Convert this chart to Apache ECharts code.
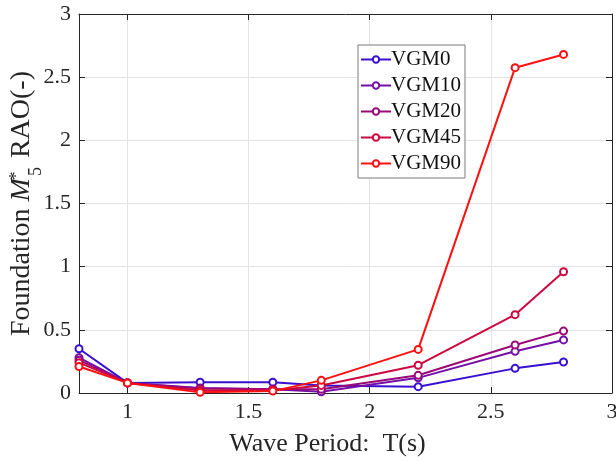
<!DOCTYPE html>
<html><head><meta charset="utf-8">
<script src="https://cdn.jsdelivr.net/npm/echarts@6/dist/echarts.min.js"></script>
<style>html,body{margin:0;padding:0;background:#fff}#c{width:616px;height:461px}</style>
</head><body><div id="c"></div>
<script>
const periods = [0.8, 1.0, 1.3, 1.6, 1.8, 2.2, 2.6, 2.8];
const VGM0  = [0.35, 0.08, 0.085, 0.085, 0.06, 0.05, 0.195, 0.245];
const VGM10 = [0.28, 0.08, 0.04, 0.03, 0.01, 0.12, 0.33, 0.42];
const VGM20 = [0.26, 0.08, 0.035, 0.03, 0.03, 0.14, 0.38, 0.49];
const VGM45 = [0.24, 0.08, 0.02, 0.02, 0.06, 0.22, 0.62, 0.96];
const VGM90 = [0.21, 0.08, 0.005, 0.015, 0.10, 0.345, 2.575, 2.68];
const seriesNames = ['VGM0', 'VGM10', 'VGM20', 'VGM45', 'VGM90'];
const seriesData = [VGM0, VGM10, VGM20, VGM45, VGM90];
const xTicks = [1, 1.5, 2, 2.5, 3];
const colors = ['#3a10d0', '#7410a8', '#9a0878', '#cc0840', '#ff1010'];

const font = 'Liberation Serif, DejaVu Serif, serif';
const axisCol = '#262626';
const gridCol = '#e3e3e3';

function xAxisCfg(pos, show) {
  return {
    type: 'value', position: pos, min: 0.8, max: 3,
    axisLine: { show: true, onZero: false, lineStyle: { color: axisCol, width: 1 } },
    axisTick: { show: true, inside: true, length: 6, customValues: xTicks, lineStyle: { color: axisCol } },
    axisLabel: { show: show, customValues: xTicks, color: axisCol, fontFamily: font, fontSize: 22, margin: 8 },
    splitLine: { show: show, lineStyle: { color: gridCol, width: 1 } },
    name: show ? 'Wave Period:  T(s)' : '', nameLocation: 'middle', nameGap: 38, nameMoveOverlap: false,
    nameTextStyle: { color: axisCol, fontFamily: font, fontSize: 26, padding: [0, 36, 0, 0] }
  };
}
function yAxisCfg(pos, show) {
  return {
    type: 'value', position: pos, min: 0, max: 3, interval: 0.5,
    axisLine: { show: true, onZero: false, lineStyle: { color: axisCol, width: 1 } },
    axisTick: { show: true, inside: true, length: 6, lineStyle: { color: axisCol } },
    axisLabel: { show: show, color: axisCol, fontFamily: font, fontSize: 22, margin: 8 },
    splitLine: { show: show, lineStyle: { color: gridCol, width: 1 } },
    name: show ? '{n|Foundation }{m|M}{sup|*}{s|5}{n| RAO(-)}' : '', nameLocation: 'middle', nameGap: 43, nameMoveOverlap: false,
    nameTextStyle: {
      color: axisCol, fontFamily: font, fontSize: 28,
      rich: {
        n: { fontFamily: font, fontSize: 28, color: axisCol },
        m: { fontFamily: font, fontSize: 28, fontStyle: 'italic', color: axisCol, padding: [0, 2, 0, 0] },
        sup: { fontFamily: font, fontSize: 18, color: axisCol, width: 0, verticalAlign: 'top' },
        s: { fontFamily: font, fontSize: 18, color: axisCol, verticalAlign: 'bottom', padding: [0, 2, -9, 0] }
      }
    }
  };
}

const chart = echarts.init(document.getElementById('c'));
chart.setOption({
  animation: false,
  backgroundColor: '#fff',
  grid: { left: 79, right: 4, top: 14, bottom: 68, outerBoundsMode: 'none', containLabel: false },
  xAxis: [xAxisCfg('bottom', true), xAxisCfg('top', false)],
  yAxis: [yAxisCfg('left', true), yAxisCfg('right', false)],
  legend: {
    data: seriesNames, orient: 'vertical', left: 358, top: 45,
    backgroundColor: '#fff', borderColor: '#7a7a7a', borderWidth: 1,
    padding: [3, 4, 3, 2], itemGap: 3, itemWidth: 30, itemHeight: 8,
    textStyle: { fontFamily: font, fontSize: 21, lineHeight: 23, color: '#111', padding: [0, 0, 0, -5] }
  },
  series: seriesNames.map((n, i) => ({
    name: n, type: 'line', xAxisIndex: 0, yAxisIndex: 0,
    data: periods.map((p, j) => [p, seriesData[i][j]]),
    color: colors[i],
    symbol: 'emptyCircle', symbolSize: 7,
    lineStyle: { width: 2, color: colors[i] },
    itemStyle: { color: colors[i], borderWidth: 2, borderColor: colors[i] },
    z: 2 + i
  }))
});
</script></body></html>
